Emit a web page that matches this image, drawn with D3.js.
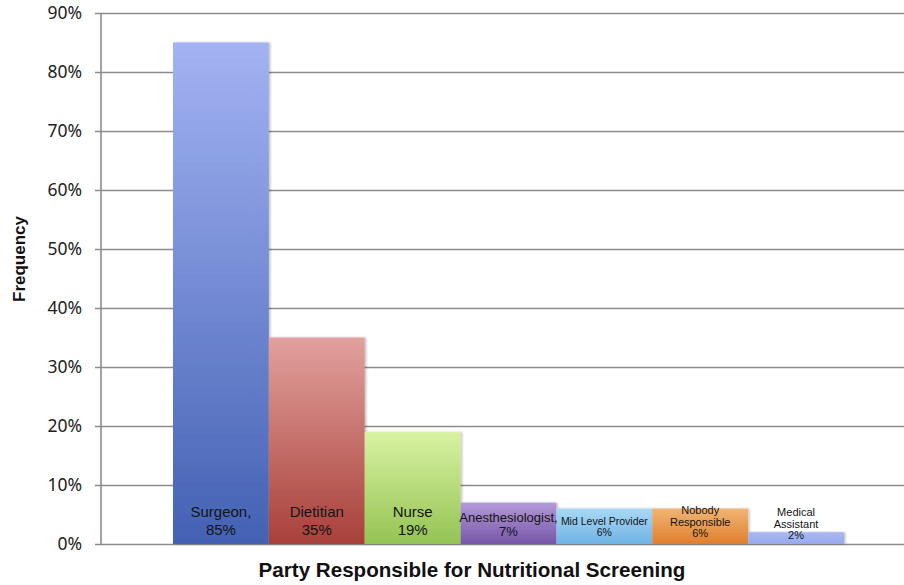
<!DOCTYPE html>
<html>
<head>
<meta charset="utf-8">
<script src="https://cdn.jsdelivr.net/npm/d3@7"></script>
<style>
  html, body { margin: 0; padding: 0; background: #fff; }
  svg { display: block; }
</style>
</head>
<body>
<svg id="chart" width="904" height="585"></svg>
<script>
// Who is responsible for nutritional screening (share of respondents)
const categories = ["Surgeon", "Dietitian", "Nurse", "Anesthesiologist", "Mid Level Provider", "Nobody Responsible", "Medical Assistant"];
const values = [0.85, 0.35, 0.19, 0.07, 0.06, 0.06, 0.02];
const barLabels = [
  ["Surgeon,", "85%"],
  ["Dietitian", "35%"],
  ["Nurse", "19%"],
  ["Anesthesiologist,", "7%"],
  ["Mid Level Provider", "6%"],
  ["Nobody", "Responsible", "6%"],
  ["Medical", "Assistant", "2%"]
];
const yTicks = [0, 0.1, 0.2, 0.3, 0.4, 0.5, 0.6, 0.7, 0.8, 0.9];

// gradient stops per bar: [top colour, bottom colour]
const barColors = [
  ["#a3b3f3", "#4361b3"],
  ["#e2a19d", "#a8403a"],
  ["#d9f2a2", "#94c354"],
  ["#b39ad8", "#7655a8"],
  ["#a9d8f5", "#6fb3e6"],
  ["#f0b474", "#e07f2f"],
  ["#aab8f2", "#98a9ec"]
];
// label typography per bar: font size, line height, gap from baseline to last line
const labelSizes = [15, 15, 15, 13, 10.5, 11, 11];
const labelLineHeights = [18, 18, 18, 14, 11.5, 11.5, 11.5];
const labelBottomGaps = [9, 9, 9, 8, 8, 7, 5];

const svg = d3.select("#chart");
const plotLeft = 101, plotRight = 904, plotTop = 13, plotBottom = 544;

const y = d3.scaleLinear().domain([0, 0.9]).range([plotBottom, plotTop]);
const x = d3.scaleBand().domain(categories).range([173, 844]).padding(0);

const defs = svg.append("defs");
categories.forEach((c, i) => {
  const g = defs.append("linearGradient")
    .attr("id", "grad" + i).attr("x1", 0).attr("y1", 0).attr("x2", 0).attr("y2", 1);
  g.append("stop").attr("offset", "0%").attr("stop-color", barColors[i][0]);
  g.append("stop").attr("offset", "100%").attr("stop-color", barColors[i][1]);
});
const shadow = defs.append("filter").attr("id", "shadow")
  .attr("x", "-10%").attr("y", "-10%").attr("width", "130%").attr("height", "130%");
shadow.append("feDropShadow").attr("dx", 1.5).attr("dy", 0).attr("stdDeviation", 1.2)
  .attr("flood-color", "#000").attr("flood-opacity", 0.25);

// horizontal gridlines with tick marks on the left
const yAxis = d3.axisLeft(y)
  .tickValues(yTicks)
  .tickFormat(d3.format(".0%"))
  .tickSize(-(plotRight - plotLeft))
  .tickPadding(19);

const axisG = svg.append("g")
  .attr("transform", `translate(${plotLeft},0)`)
  .call(yAxis);
axisG.select(".domain").remove();
axisG.selectAll(".tick line")
  .attr("x1", -6)
  .attr("stroke", "#8c8c8c")
  .attr("stroke-width", 1.6);
axisG.selectAll(".tick text")
  .attr("fill", "#222")
  .style("font-family", "'Noto Sans', 'DejaVu Sans', sans-serif")
  .style("font-size", "17.5px");

// vertical axis line
svg.append("line")
  .attr("x1", plotLeft).attr("x2", plotLeft)
  .attr("y1", plotTop).attr("y2", plotBottom)
  .attr("stroke", "#8c8c8c").attr("stroke-width", 1.6);

// bars
svg.append("g").selectAll("rect")
  .data(categories)
  .join("rect")
  .attr("x", d => x(d))
  .attr("y", (d, i) => y(values[i]))
  .attr("width", x.bandwidth())
  .attr("height", (d, i) => y(0) - y(values[i]))
  .attr("fill", (d, i) => `url(#grad${i})`)
  .attr("filter", "url(#shadow)");

// bar labels, stacked from the baseline upward
const lblG = svg.append("g")
  .style("font-family", "'Liberation Sans', Arial, sans-serif")
  .attr("fill", "#141414")
  .attr("text-anchor", "middle");
categories.forEach((c, i) => {
  const lines = barLabels[i];
  const lastBase = y(0) - labelBottomGaps[i];
  lines.forEach((t, j) => {
    lblG.append("text")
      .attr("x", x(c) + x.bandwidth() / 2)
      .attr("y", lastBase - (lines.length - 1 - j) * labelLineHeights[i])
      .style("font-size", labelSizes[i] + "px")
      .text(t);
  });
});

// axis titles
svg.append("text")
  .attr("transform", "translate(25,259) rotate(-90)")
  .attr("text-anchor", "middle")
  .style("font-family", "'Liberation Sans', Arial, sans-serif")
  .style("font-size", "17px")
  .style("font-weight", "bold")
  .attr("fill", "#111")
  .text("Frequency");

svg.append("text")
  .attr("x", 472)
  .attr("y", 577)
  .attr("text-anchor", "middle")
  .style("font-family", "'Liberation Sans', Arial, sans-serif")
  .style("font-size", "20.6px")
  .style("font-weight", "bold")
  .attr("fill", "#111")
  .text("Party Responsible for Nutritional Screening");
</script>
</body>
</html>
